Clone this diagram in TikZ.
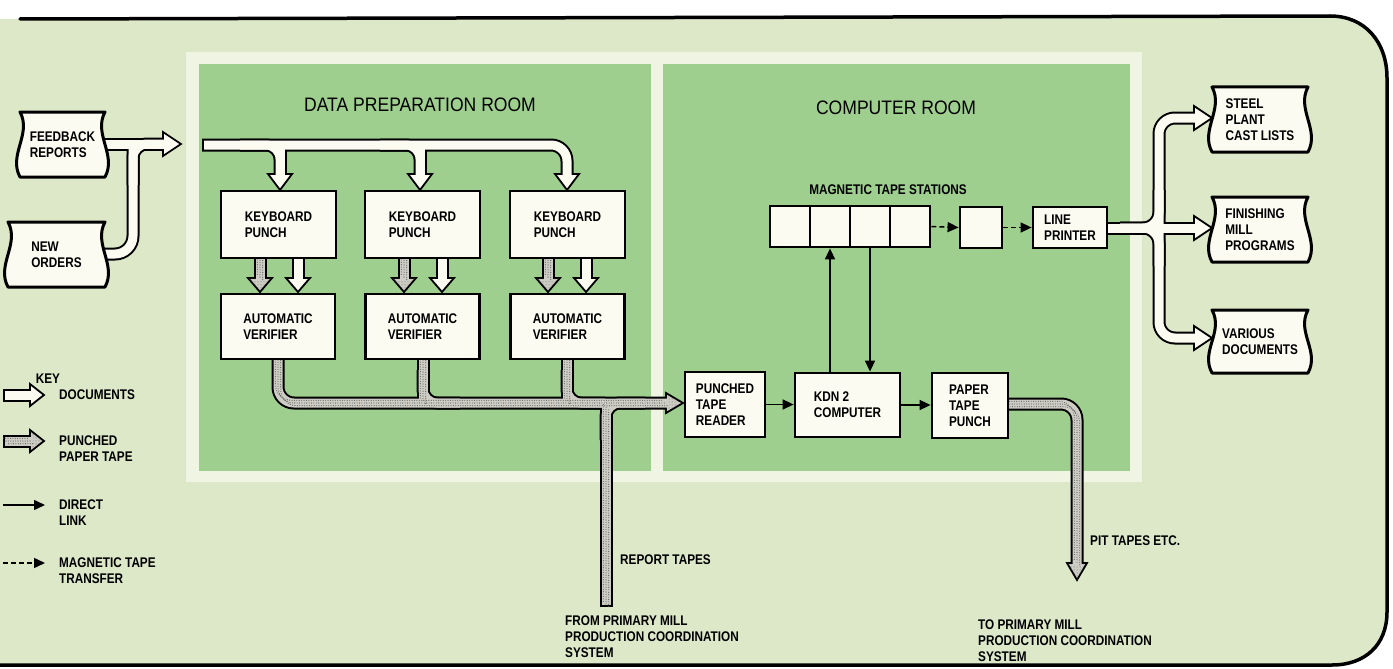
\documentclass[tikz,border=0pt]{standalone}
\usepackage{fontspec}
\setmainfont{Liberation Sans}
\newfontfamily\lblf[FakeStretch=0.84]{Liberation Sans}
\newfontfamily\ttlf[FakeStretch=0.9]{Liberation Sans}
\usetikzlibrary{arrows.meta,calc,patterns}
\pgfdeclarelayer{bg}
\pgfdeclarelayer{mid}
\pgfsetlayers{bg,mid,main}
\definecolor{bgc}{HTML}{DDE8C9}
\definecolor{roomc}{HTML}{9FCF8E}
\definecolor{framec}{HTML}{EFF4E3}
\definecolor{boxc}{HTML}{FBFBF1}
\definecolor{tapec}{HTML}{CDCDC5}
\definecolor{dotc}{HTML}{5E5E5A}
\tikzset{
 lblfont/.style={font=\lblf\bfseries\fontsize{14}{16}\selectfont},
 box/.style={draw=black, line width=2.8pt, fill=boxc, lblfont, align=left, inner sep=0pt},
 cell/.style={draw=black, line width=2.8pt, fill=boxc, inner sep=0pt, minimum width=40pt, minimum height=41pt},
 lbl/.style={lblfont, align=left, inner sep=0pt},
 docn/.style={lblfont, align=left, inner sep=0pt, outer sep=0pt},
 docline/.style={fill=boxc, draw=black, line width=3pt, line join=round},
 titlef/.style={font=\ttlf\fontsize{19.5}{22}\selectfont, inner sep=0pt},
 link/.style={line width=1.5pt, -{Triangle[length=11pt,width=10pt]}},
 magl/.style={link, dash pattern=on 5pt off 3pt},
 docO/.style={line width=13pt, draw=black},
 docI/.style={line width=9pt, draw=boxc},
 docH/.style={fill=boxc, draw=black, line width=1.8pt, line join=miter},
 tapeO/.style={line width=13pt, draw=black},
 tapeI/.style={line width=9pt, draw=tapec},
 tapeD/.style={draw=dotc, line width=1.1pt, line cap=round, dash pattern=on 0pt off 2.4pt},
 tapeH/.style={fill=tapec, draw=black, line width=1.8pt, line join=miter, postaction={pattern=dots, pattern color=dotc}},
}
\newcommand\headR[5]{\filldraw[#5] (#1,#2) -- ++(-#3,-#4) -- ++(0,2*#4) -- cycle;}
\newcommand\headD[5]{\filldraw[#5] (#1,#2) -- ++(-#4,-#3) -- ++(2*#4,0) -- cycle;}
\newcommand\tapedots[2][]{\foreach \s in {-2.7,0,2.7}{\draw[tapeD,shorten <=3pt,shorten >=3pt,#1,shift={(\s,\s)}] #2;}}
\newcommand\wavydoc[1]{\filldraw[docline] (#1.north west) -- (#1.north east)
  .. controls ($(#1.north east)+(-12,22)$) and ($(#1.south east)+(12,-22)$) .. (#1.south east)
  -- (#1.south west)
  .. controls ($(#1.south west)+(-12,-22)$) and ($(#1.north west)+(12,22)$) .. cycle;}
\begin{document}
\begin{tikzpicture}[x=1pt,y=-1pt]
\useasboundingbox (0,0) rectangle (1393,669);
\begin{pgfonlayer}{bg}
\fill[white] (0,0) rectangle (1393,669);
\fill[bgc] (-2,19) -- (1330,16) .. controls (1365,16) and (1387,42) .. (1387,78) -- (1387,612) .. controls (1387,645) and (1365,665) .. (1332,665) -- (-2,665) -- cycle;
\fill[framec] (186,52) rectangle (1142,482);
\fill[roomc] (199,64) rectangle (651,471);
\fill[roomc] (663,64) rectangle (1130,471);
\draw[line width=3.5pt, line cap=round] (20,19) -- (1330,16) .. controls (1365,16) and (1387,42) .. (1387,78) -- (1387,612) .. controls (1387,645) and (1365,665) .. (1332,665) -- (-2,665);
\end{pgfonlayer}

% titles
\node[titlef] (tdp) at (420,105) {DATA PREPARATION ROOM};
\node[titlef] (tcr) at (896,108) {COMPUTER ROOM};
\node[lbl] (mts) at (888,190) {MAGNETIC TAPE STATIONS};

% data preparation boxes
\node[box, minimum width=115pt, minimum height=67pt] (kp1) at (278.5,224.5) {KEYBOARD\\PUNCH};
\node[box, minimum width=115pt, minimum height=67pt] (kp2) at (422.5,224.5) {KEYBOARD\\PUNCH};
\node[box, minimum width=115pt, minimum height=67pt] (kp3) at (567.5,224.5) {KEYBOARD\\PUNCH};
\node[box, minimum width=114pt, minimum height=65pt] (av1) at (278,326.5) {AUTOMATIC\\VERIFIER};
\node[box, minimum width=114pt, minimum height=65pt] (av2) at (422.5,326.5) {AUTOMATIC\\VERIFIER};
\node[box, minimum width=114pt, minimum height=65pt] (av3) at (567.5,326.5) {AUTOMATIC\\VERIFIER};

% computer room
\node[box, minimum width=80pt, minimum height=65pt] (ptr) at (725,404.5) {PUNCHED\\TAPE\\READER};
\node[box, minimum width=105pt, minimum height=64pt] (kdn) at (847.5,405) {KDN 2\\COMPUTER};
\node[box, minimum width=76pt, minimum height=65pt] (ptp) at (970,405.5) {PAPER\\TAPE\\PUNCH};
\node[cell] (t1) at (790,226.5) {};
\node[cell] (t2) at (830,226.5) {};
\node[cell] (t3) at (870,226.5) {};
\node[cell] (t4) at (910,226.5) {};
\node[cell, minimum width=42pt] (sgl) at (981,227.5) {};
\node[box, minimum width=74pt, minimum height=41pt] (lp) at (1070,227.5) {LINE\\PRINTER};

% documents
\node[docn, minimum width=85pt, minimum height=65pt] (fb) at (62.5,144.5) {FEEDBACK\\REPORTS};
\node[docn, minimum width=97pt, minimum height=65pt] (nwo) at (56.5,254.5) {NEW\\ORDERS};
\node[docn, minimum width=96pt, minimum height=65pt] (st) at (1260,119.5) {STEEL\\PLANT\\CAST LISTS};
\node[docn, minimum width=96pt, minimum height=65pt] (fm) at (1260,229.5) {FINISHING\\MILL\\PROGRAMS};
\node[docn, minimum width=96pt, minimum height=63pt] (vd) at (1260,341.5) {VARIOUS\\DOCUMENTS};

% key
\node[lbl] (key) at (48,379) {KEY};
\node[lbl, anchor=west] (kdoc) at (59,395) {DOCUMENTS};
\node[lbl, anchor=west] (kpun) at (59,449) {PUNCHED\\PAPER TAPE};
\node[lbl, anchor=west] (kdir) at (59,513) {DIRECT\\LINK};
\node[lbl, anchor=west] (kmag) at (59,571) {MAGNETIC TAPE\\TRANSFER};
\coordinate (kl1) at (3,505);
\coordinate (kl2) at (45,505);
\coordinate (km1) at (3,563);
\coordinate (km2) at (45,563);

% bottom labels
\node[lbl, anchor=west] (rt) at (620,560) {REPORT TAPES};
\node[lbl, anchor=west] (pit) at (1090,541) {PIT TAPES ETC.};
\node[lbl, anchor=west] (from) at (565,637) {FROM PRIMARY MILL\\PRODUCTION COORDINATION\\SYSTEM};
\node[lbl, anchor=west] (to) at (978,641) {TO PRIMARY MILL\\PRODUCTION COORDINATION\\SYSTEM};

% direct links and magnetic tape transfers
\draw[link] (ptr.east) -- (ptr.east -| kdn.west);
\draw[link] (kdn.east) -- (kdn.east -| ptp.west);
\draw[link] (kdn.north -| t2) -- (t2.south);
\draw[link] (t3.south) -- (t3.south |- kdn.north);
\draw[magl] (t4.east) -- (sgl.west);
\draw[magl] (sgl.east) -- (lp.west);
\draw[link] (kl1) -- (kl2);
\draw[magl] (km1) -- (km2);

% paths of the broad arrows
\def\dF{(95,144) -- (166,144)}
\def\dN{[rounded corners=18] (95,254) -- (133,254) -- (133,146)}
\def\dNf{[rounded corners=14] (133,185) -- (133,144) -- (165,144)}
\def\dE{[rounded corners=16] (202,145) -- (567,145) -- (567,177)}
\def\dEa{(280,145) -- (280,177)}
\def\dEaf{[rounded corners=14] (240,145) -- (280,145) -- (280,177)}
\def\dEb{(420,145) -- (420,177)}
\def\dEbf{[rounded corners=14] (380,145) -- (420,145) -- (420,177)}
\def\dKa{(298,250) -- (298,281)}
\def\dKb{(442,250) -- (442,281)}
\def\dKc{(586,250) -- (586,281)}
\def\dL{(1095,228) -- (1197,228)}
\def\dLu{[rounded corners=16] (1159,228) -- (1159,118) -- (1197,118)}
\def\dLuf{[rounded corners=16] (1120,228) -- (1159,228) -- (1159,190)}
\def\dLd{[rounded corners=16] (1159,228) -- (1159,338) -- (1197,338)}
\def\dLdf{[rounded corners=16] (1120,228) -- (1159,228) -- (1159,266)}
\def\dKey{(3,395) -- (33,395)}
\def\tA{[rounded corners=16] (278,345) -- (278,403) -- (669,403)}
\def\tB{(423,345) -- (423,404)}
\def\tBf{[rounded corners=14] (423,370) -- (423,403) -- (460,403)}
\def\tC{(567,345) -- (567,404)}
\def\tCf{[rounded corners=14] (567,370) -- (567,403) -- (605,403)}
\def\tD{(606,607) -- (606,402)}
\def\tDf{[rounded corners=14] (606,440) -- (606,403) -- (645,403)}
\def\tE{[rounded corners=16] (990,404) -- (1077,404) -- (1077,566)}
\def\tKa{(260,250) -- (260,281)}
\def\tKb{(404,250) -- (404,281)}
\def\tKc{(548,250) -- (548,281)}
\def\tKey{(3,441) -- (33,441)}

\begin{pgfonlayer}{mid}
% outlines
\draw[docO, shorten >=3pt] \dF;
\draw[docO] \dN;
\draw[docO] \dNf;
\draw[docO, shorten >=3pt] \dE;
\draw[docO, shorten >=3pt] \dEa;
\draw[docO] \dEaf;
\draw[docO, shorten >=3pt] \dEb;
\draw[docO] \dEbf;
\draw[docO, shorten >=3pt] \dKa;
\draw[docO, shorten >=3pt] \dKb;
\draw[docO, shorten >=3pt] \dKc;
\draw[docO, shorten >=3pt] \dL;
\draw[docO, shorten >=3pt] \dLu;
\draw[docO] \dLuf;
\draw[docO, shorten >=3pt] \dLd;
\draw[docO] \dLdf;
\draw[docO, shorten >=3pt] \dKey;
\draw[tapeO, shorten >=3pt] \tA;
\draw[tapeO] \tB;
\draw[tapeO] \tBf;
\draw[tapeO] \tC;
\draw[tapeO] \tCf;
\draw[tapeO] \tD;
\draw[tapeO] \tDf;
\draw[tapeO, shorten >=3pt] \tE;
\draw[tapeO, shorten >=3pt] \tKa;
\draw[tapeO, shorten >=3pt] \tKb;
\draw[tapeO, shorten >=3pt] \tKc;
\draw[tapeO, shorten >=3pt] \tKey;
% heads
\headR{181}{144}{18}{12}{docH}
\headD{567}{190}{16}{12}{docH}
\headD{280}{190}{16}{12}{docH}
\headD{420}{190}{16}{12}{docH}
\headD{298}{292}{14}{12}{docH}
\headD{442}{292}{14}{12}{docH}
\headD{586}{292}{14}{12}{docH}
\headR{1212}{228}{18}{12}{docH}
\headR{1212}{118}{18}{12}{docH}
\headR{1212}{338}{18}{12}{docH}
\headR{44}{395}{14}{11}{docH}
\headR{683}{403}{17}{10}{tapeH}
\headD{1077}{580}{17}{10}{tapeH}
\headD{260}{292}{14}{12}{tapeH}
\headD{404}{292}{14}{12}{tapeH}
\headD{548}{292}{14}{12}{tapeH}
\headR{44}{441}{14}{11}{tapeH}
% inner fills
\draw[docI] \dF;
\draw[docI] \dN;
\draw[docI] \dNf;
\draw[docI, shorten <=2pt] \dE;
\draw[docI] \dEa;
\draw[docI] \dEaf;
\draw[docI] \dEb;
\draw[docI] \dEbf;
\draw[docI] \dKa;
\draw[docI] \dKb;
\draw[docI] \dKc;
\draw[docI] \dL;
\draw[docI] \dLu;
\draw[docI] \dLuf;
\draw[docI] \dLd;
\draw[docI] \dLdf;
\draw[docI, shorten <=2pt] \dKey;
\draw[tapeI] \tA;
\draw[tapeI] \tB;
\draw[tapeI] \tBf;
\draw[tapeI] \tC;
\draw[tapeI] \tCf;
\draw[tapeI, shorten <=2pt] \tD;
\draw[tapeI] \tDf;
\draw[tapeI] \tE;
\draw[tapeI] \tKa;
\draw[tapeI] \tKb;
\draw[tapeI] \tKc;
\draw[tapeI, shorten <=2pt] \tKey;
% stipple
\tapedots{\tA}
\tapedots{\tB}
\tapedots{\tC}
\tapedots{\tD}
\tapedots{\tE}
\tapedots{\tKa}
\tapedots{\tKb}
\tapedots{\tKc}
\tapedots{\tKey}
% document outlines
\wavydoc{fb}
\wavydoc{nwo}
\wavydoc{st}
\wavydoc{fm}
\wavydoc{vd}
\end{pgfonlayer}
\end{tikzpicture}
\end{document}
